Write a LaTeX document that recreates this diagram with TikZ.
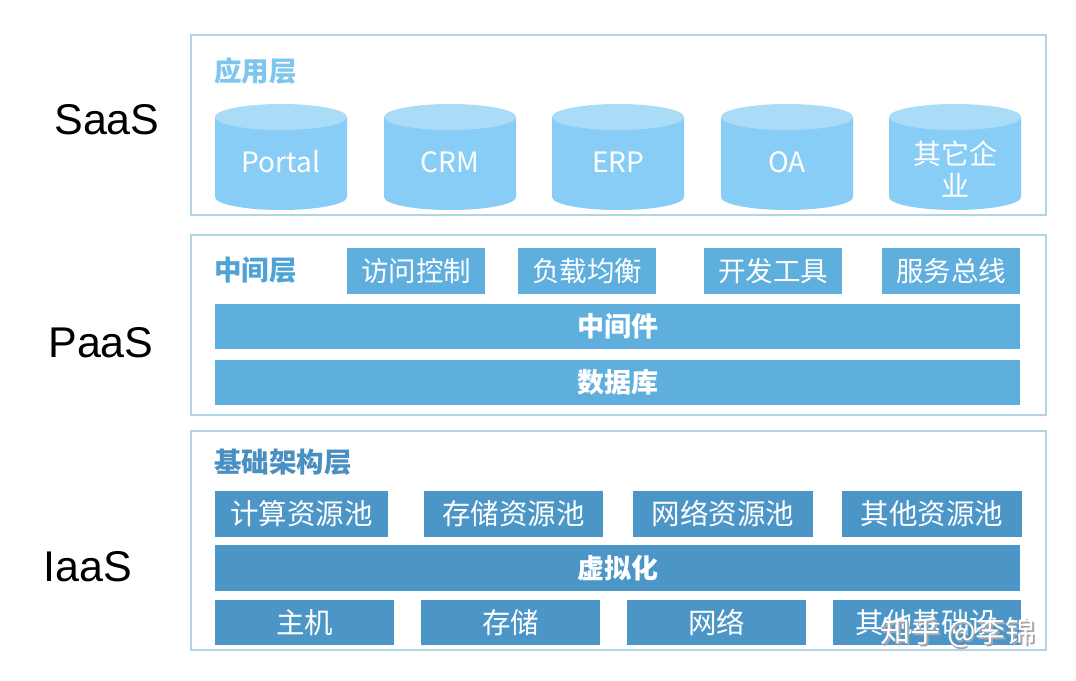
\documentclass[tikz,border=0pt]{standalone}
\usepackage{fontspec}
\setmainfont{Noto Sans CJK SC}
\newfontfamily\cjk{Noto Sans CJK SC}
\newfontfamily\arial{Liberation Sans}
\definecolor{frame}{HTML}{B2D5E6}
\definecolor{cylside}{HTML}{88CDF5}
\definecolor{cyltop}{HTML}{AADCF8}
\definecolor{paasc}{HTML}{5FAFDE}
\definecolor{iaasc}{HTML}{4B96C7}
\definecolor{applab}{HTML}{7EC6EE}
\definecolor{midlab}{HTML}{4EA3D6}
\definecolor{baselab}{HTML}{4A8FC2}
\tikzset{
  layerbox/.style={draw=frame, line width=1.3pt},
  tierlabel/.style={font=\arial\fontsize{43}{45}\selectfont, text=black, inner sep=0pt},
  layertitle/.style={font=\cjk\bfseries\fontsize{27.5}{30}\selectfont, anchor=west, inner sep=0pt},
  cyltext/.style={font=\cjk\fontsize{28}{32}\selectfont, text=white, align=center, inner sep=0pt},
  pbox/.style={fill=paasc, text=white, font=\cjk\fontsize{27.5}{29}\selectfont, minimum height=46pt, inner sep=0pt},
  pbar/.style={fill=paasc, text=white, font=\cjk\bfseries\fontsize{27}{29}\selectfont, minimum width=805pt, minimum height=45pt, inner sep=0pt},
  ibox/.style={fill=iaasc, text=white, font=\cjk\fontsize{28.5}{30}\selectfont, minimum height=46pt, inner sep=0pt},
  ibar/.style={fill=iaasc, text=white, font=\cjk\bfseries\fontsize{27}{29}\selectfont, minimum width=805pt, minimum height=46pt, inner sep=0pt},
  wmark/.style={font=\cjk\fontsize{30}{32}\selectfont, inner sep=0pt, anchor=west}
}
\begin{document}
\begin{tikzpicture}[x=1pt,y=-1pt]
\useasboundingbox (0,0) rectangle (1076,680);
\fill[white] (0,0) rectangle (1076,680);

% layer frames
\node[layerbox, minimum width=855pt, minimum height=180pt, inner sep=0pt] (saasframe) at (618.5,125) {};
\node[layerbox, minimum width=855pt, minimum height=180pt, inner sep=0pt] (paasframe) at (618.5,325) {};
\node[layerbox, minimum width=855pt, minimum height=219pt, inner sep=0pt] (iaasframe) at (618.5,540.5) {};

% tier labels
\node[tierlabel] (saas) at (107,120) {SaaS};
\node[tierlabel] (paas) at (101,343) {PaaS};
\node[tierlabel] (iaas) at (88,567) {IaaS};

% SaaS
\node[layertitle, text=applab] (applayer) at (214,71) {应用层};
\foreach \L/\nm in {215/c1,384/c2,552/c3,721/c4,889/c5}{
  \fill[cylside] (\L,117) -- (\L,197) arc[start angle=180, end angle=0, x radius=66, y radius=13] -- (\L+132,117) -- cycle;
  \fill[cyltop] (\L+66,117) ellipse[x radius=66, y radius=13];
}
\node[cyltext] (portal) at (281,162) {Portal};
\node[cyltext] (crm) at (450,162) {CRM};
\node[cyltext] (erp) at (618,162) {ERP};
\node[cyltext] (oa) at (787,162) {OA};
\node[cyltext] (other) at (955,169) {其它企\\业};

% PaaS
\node[layertitle, text=midlab] (midlayer) at (214,270) {中间层};
\node[pbox, minimum width=138pt] (acc) at (416,271) {访问控制};
\node[pbox, minimum width=138pt] (lb) at (587,271) {负载均衡};
\node[pbox, minimum width=138pt] (dev) at (773,271) {开发工具};
\node[pbox, minimum width=138pt] (bus) at (951,271) {服务总线};
\node[pbar] (mw) at (617.5,326.5) {中间件};
\node[pbar] (db) at (617.5,382.5) {数据库};

% IaaS
\node[layertitle, text=baselab] (baselayer) at (214,462) {基础架构层};
\node[ibox, minimum width=173pt] (cpu) at (301.5,514) {计算资源池};
\node[ibox, minimum width=179pt] (stp) at (513.5,514) {存储资源池};
\node[ibox, minimum width=180pt] (netp) at (723,514) {网络资源池};
\node[ibox, minimum width=180pt] (othp) at (932,514) {其他资源池};
\node[ibar] (virt) at (617.5,568) {虚拟化};
\node[ibox, minimum width=179pt, minimum height=45pt] (host) at (304.5,622.5) {主机};
\node[ibox, minimum width=179pt, minimum height=45pt] (stor) at (510.5,622.5) {存储};
\node[ibox, minimum width=179pt, minimum height=45pt] (net) at (716.5,622.5) {网络};
\node[ibox, minimum width=188pt, minimum height=45pt] (infra) at (927,622.5) {其他基础设};

% watermark
\node[wmark, text=gray!70] (wmshadow) at (882,634) {知乎 @李锦};
\node[wmark, text=white] (wm) at (880.5,632.5) {知乎 @李锦};
\end{tikzpicture}
\end{document}
